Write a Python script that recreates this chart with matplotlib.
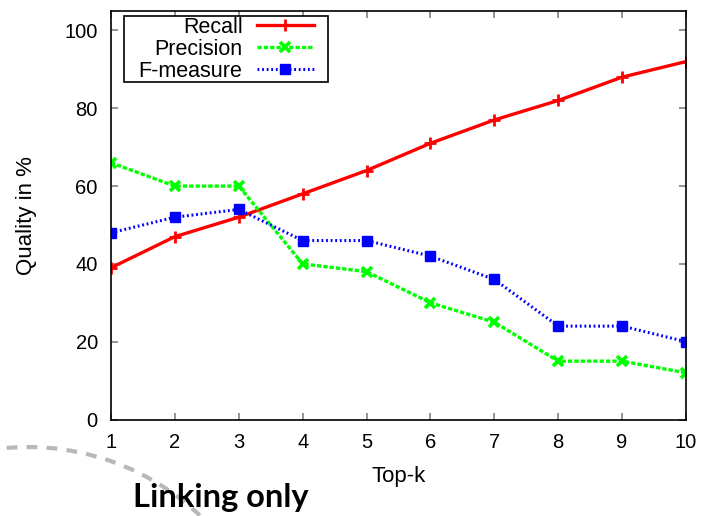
import numpy as np
import matplotlib
matplotlib.use('Agg')
import matplotlib.pyplot as plt
from matplotlib.patches import Arc
from matplotlib.path import Path
from matplotlib.transforms import IdentityTransform

# data
topk = [1, 2, 3, 4, 5, 6, 7, 8, 9, 10]
recall = [39, 47, 52, 58, 64, 71, 77, 82, 88, 92]
precision = [66, 60, 60, 40, 38, 30, 25, 15, 15, 12]
fmeasure = [48, 52, 54, 46, 46, 42, 36, 24, 24, 20]
yticks = [0, 20, 40, 60, 80, 100]

plt.rcParams['font.family'] = ['Liberation Sans', 'DejaVu Sans']

fig = plt.figure(figsize=(7.03, 5.16), dpi=100)
ax = fig.add_axes([111/703, 1-419.5/516, 575/703, 408.5/516])

ax.plot(topk, recall, color='#ff0000', lw=2.4, marker='+', ms=8, mew=2,
        label='Recall')
ax.plot(topk, precision, color='#00ff00', lw=2.4, ls=(0, (1.3, 0.6)),
        marker='x', ms=7, mew=2.6, label='Precision')
ax.plot(topk, fmeasure, color='#0000ff', lw=2.2, ls=(0, (0.6, 0.9)),
        marker='s', ms=7, mew=1, label='F-measure')

ax.set_xlim(1, 10)
ax.set_ylim(0, 105)
ax.set_xticks(topk)
ax.set_yticks(yticks)
ax.tick_params(direction='in', length=5, width=1.2, color='#808080',
               labelsize=14.5, top=True, right=True, pad=9.5, labelcolor='black')
for s in ax.spines.values():
    s.set_linewidth(1.2)
ax.set_xlabel('Top-k', fontsize=16, labelpad=10)
ax.set_ylabel('Quality in %', fontsize=16, labelpad=20)

# gnuplot style key: snug vertically, wider on the sides
def key_box(x0, y0, width, height, mutation_size):
    p = 0.63 * mutation_size
    return Path([(x0 - p, y0), (x0 + width + p, y0), (x0 + width + p, y0 + height),
                 (x0 - p, y0 + height), (x0 - p, y0)], closed=True)

leg = ax.legend(loc='upper left', bbox_to_anchor=(27/575, 1-5/408.5),
                borderaxespad=0, markerfirst=False, fontsize=15.5,
                handlelength=2.65, handletextpad=0.65, labelspacing=0.05,
                borderpad=0.03, fancybox=False, framealpha=1,
                edgecolor='black')
leg.get_frame().set_boxstyle(key_box)
leg.get_frame().set_linewidth(1.2)

# slide decoration
arc = Arc((28, -181), 500, 500, theta1=42, theta2=100, color='#b8b8b8',
          lw=3, ls=(0, (2.6, 2.2)), transform=IdentityTransform())
fig.add_artist(arc)
fig.text(133/703, 1-497/516, 'Linking only', fontsize=23.5, fontweight='bold',
         family='Lato', va='center', ha='left')

fig.savefig('out.png', dpi=100)
